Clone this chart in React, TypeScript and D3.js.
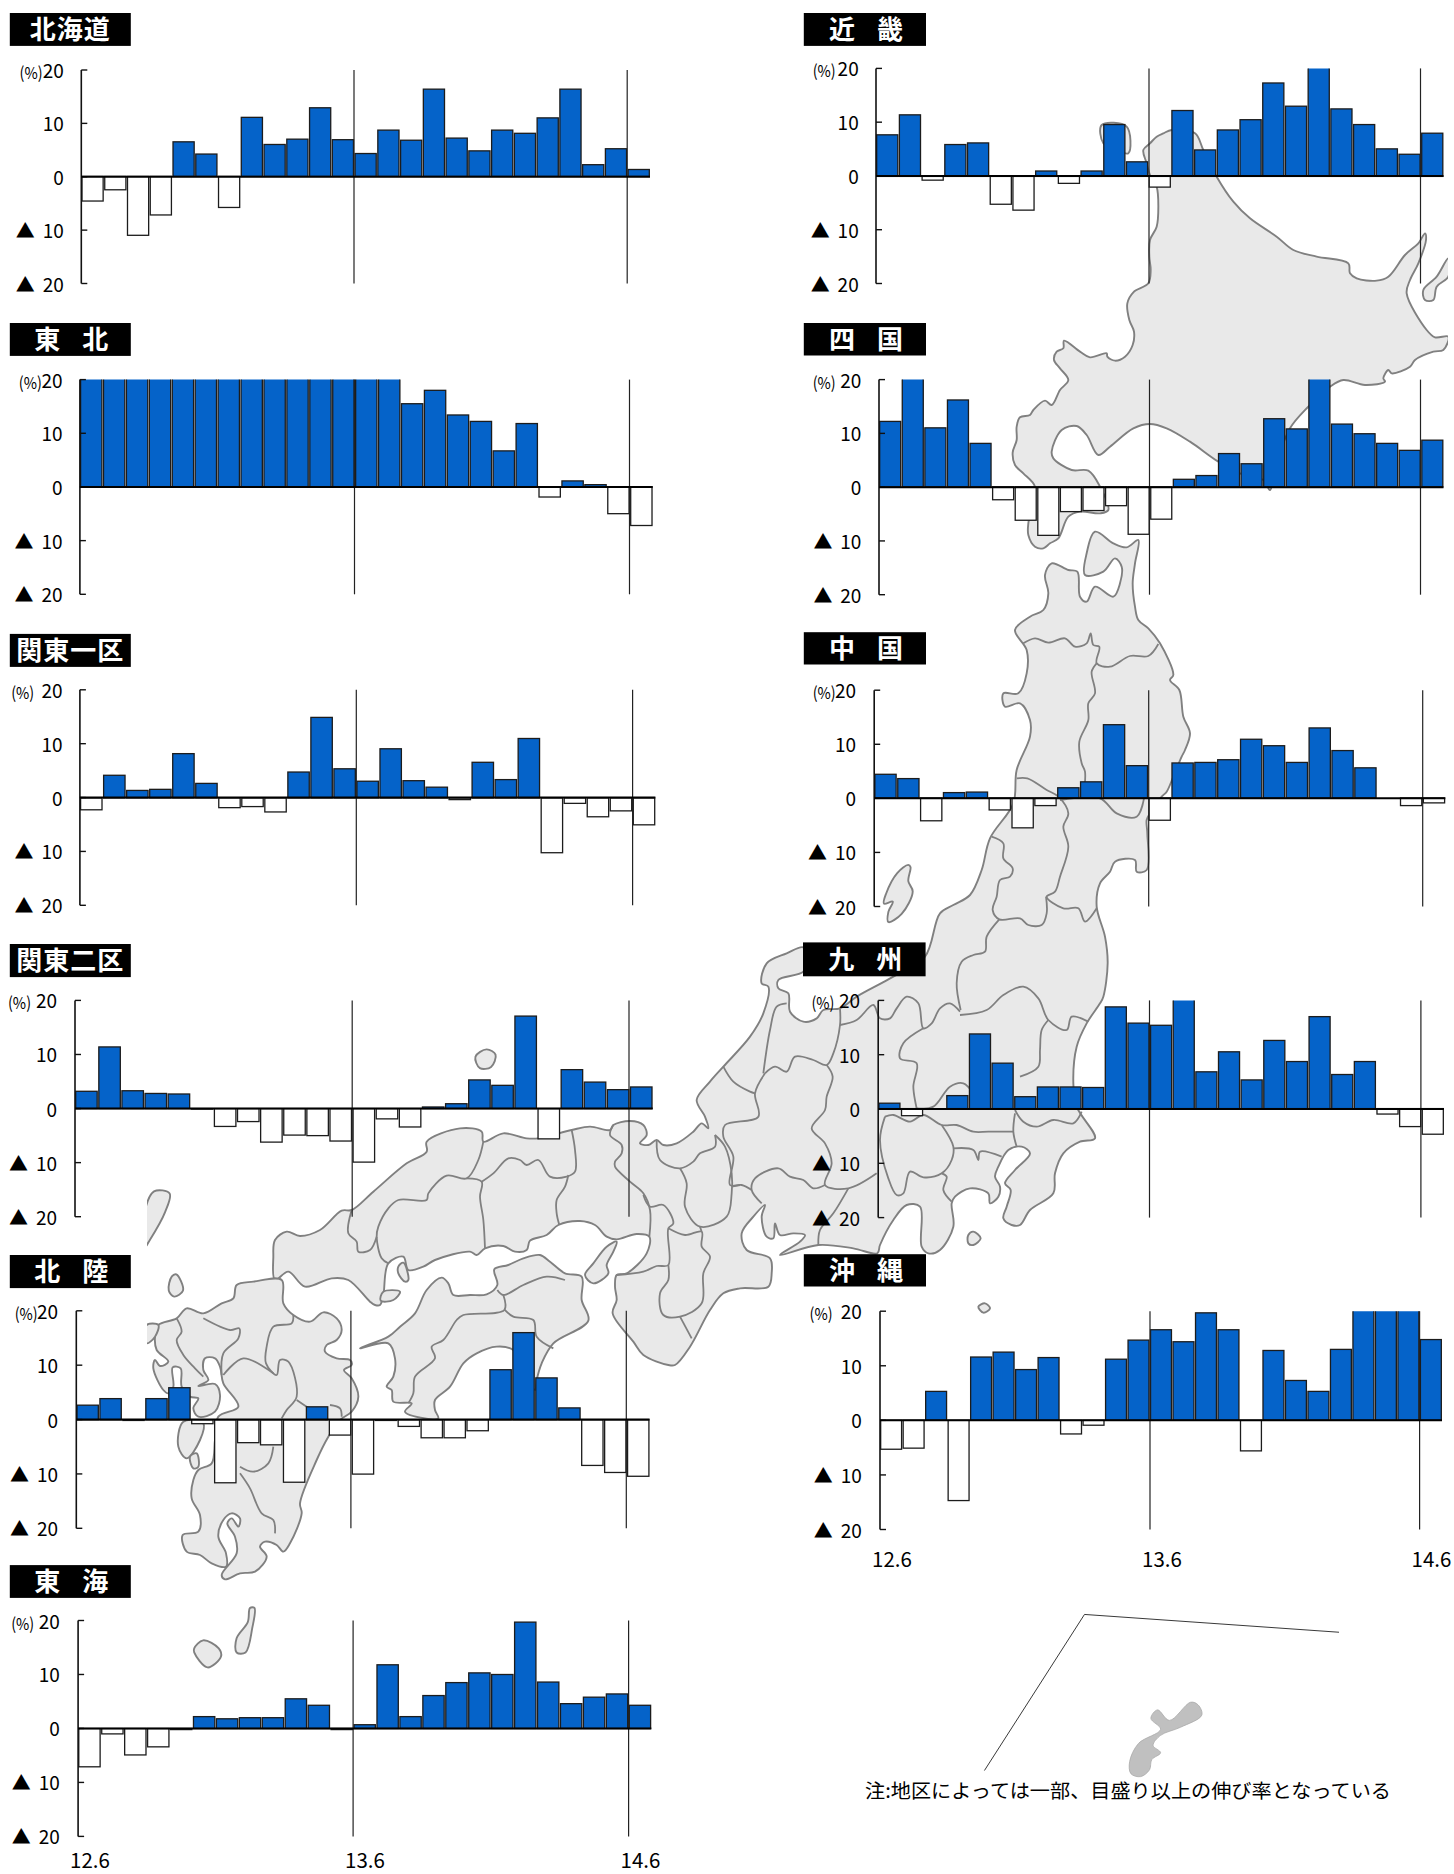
import React from "react";
import * as d3 from "d3";

// ---------- data (percent, 12.6 .. 14.6, 25 months; bars above the scale read as 20) ----------
const tickValues = [20, 10, 0, -10, -20];
const xLabels = ["12.6", "13.6", "14.6"];
const months = d3.range(25);

const hokkaido = [-4.6, -2.5, -11, -7.2, 6.5, 4.2, -5.8, 11.1, 6, 7, 12.9, 6.9, 4.3, 8.7, 6.8, 16.4, 7.2, 4.8, 8.7, 8.1, 11, 16.4, 2.2, 5.2, 1.3];
const tohoku = [20, 20, 20, 20, 20, 20, 20, 20, 20, 20, 20, 20, 20, 20, 15.5, 18, 13.4, 12.2, 6.7, 11.8, -1.9, 1.1, 0.4, -5, -7.2];
const kanto1 = [-2.2, 4.2, 1.4, 1.6, 8.2, 2.7, -1.8, -1.6, -2.6, 4.8, 14.9, 5.4, 3.1, 9.1, 3.2, 2, -0.3, 6.6, 3.4, 11, -10.2, -1, -3.5, -2.4, -5];
const kanto2 = [3.2, 11.4, 3.3, 2.8, 2.7, -0.1, -3.3, -2.4, -6.2, -4.9, -5, -6, -9.9, -1.9, -3.4, 0.3, 0.9, 5.3, 4.3, 17.1, -5.6, 7.2, 4.9, 3.5, 4];
const hokuriku = [2.7, 3.9, -0.1, 3.9, 5.9, -0.7, -11.6, -4.2, -4.6, -11.5, 2.4, -2.8, -10, -0.1, -1.2, -3.3, -3.3, -2, 9.2, 16, 7.7, 2.2, -8.4, -9.7, -10.4];
const tokai = [-7.1, -1, -4.9, -3.4, -0.2, 2.2, 1.8, 2, 2, 5.5, 4.3, -0.2, 0.7, 11.8, 2.2, 6.1, 8.5, 10.3, 10, 19.7, 8.6, 4.6, 5.8, 6.4, 4.3];
const kinki = [7.7, 11.4, -0.7, 5.9, 6.2, -5.2, -6.3, 1, -1.3, 1, 9.6, 2.7, -2, 12.2, 4.9, 8.6, 10.5, 17.3, 13, 20, 12.5, 9.6, 5.1, 4.1, 8];
const shikoku = [12.2, 20, 11, 16.2, 8.1, -2.4, -6.2, -9, -4.6, -4.4, -3.5, -8.8, -6, 1.4, 2.1, 6.2, 4.3, 12.7, 10.8, 20, 11.7, 9.9, 8.1, 6.8, 8.7];
const chugoku = [4.4, 3.6, -4.2, 1, 1.1, -2.2, -5.5, -1.4, 1.9, 3, 13.6, 6, -4.1, 6.5, 6.6, 7.1, 10.9, 9.7, 6.6, 13, 8.8, 5.6, 0, -1.4, -0.9];
const kyushu = [1, -1.3, 0, 2.4, 13.8, 8.4, 2.2, 4, 4, 3.9, 18.8, 15.8, 15.4, 20, 6.8, 10.5, 5.3, 12.6, 8.7, 17, 6.3, 8.7, -1, -3.3, -4.7];
const okinawa = [-5.3, -5.1, 5.3, -14.7, 11.6, 12.5, 9.3, 11.5, -2.5, -0.9, 11.2, 14.7, 16.6, 14.4, 19.7, 16.6, -5.6, 12.8, 7.3, 5.3, 13, 20, 20, 20, 14.8];

// ---------- layout ----------
type P = { name: string; values: number[]; x0: number; right: number; v1: number; v2: number; top: number; zero: number; bot: number; bx0: number; bx1: number; by0: number; by1: number; pct: number; lab: number; xl?: boolean; xlY?: number };
const panels: P[] = [
  { name: "北海道", values: hokkaido, x0: 81.3, right: 650, v1: 354, v2: 627.2, top: 70, zero: 176.4, bot: 283.5, bx0: 9.8, bx1: 130.8, by0: 13, by1: 45.9, pct: 19.6, lab: 63.8 },
  { name: "東　北", values: tohoku, x0: 79.9, right: 652.7, v1: 354.5, v2: 629.5, top: 379.6, zero: 486.8, bot: 594.3, bx0: 9.8, bx1: 130.8, by0: 323, by1: 355.9, pct: 18.8, lab: 62.5 },
  { name: "関東一区", values: kanto1, x0: 79.9, right: 655.4, v1: 356.3, v2: 632.6, top: 689.8, zero: 798, bot: 905.3, bx0: 9.8, bx1: 130.8, by0: 633.9, by1: 666.9, pct: 11.2, lab: 62.5 },
  { name: "関東二区", values: kanto2, x0: 75, right: 652.7, v1: 352.2, v2: 629, top: 1000.4, zero: 1108.6, bot: 1216.7, bx0: 9.8, bx1: 130.8, by0: 944, by1: 977.1, pct: 8, lab: 57.1 },
  { name: "北　陸", values: hokuriku, x0: 76.3, right: 649.6, v1: 350.9, v2: 626.3, top: 1310.8, zero: 1419.9, bot: 1528.3, bx0: 9.8, bx1: 130.8, by0: 1255, by1: 1288.1, pct: 14.7, lab: 58 },
  { name: "東　海", values: tokai, x0: 78.1, right: 651.3, v1: 353.1, v2: 628.6, top: 1620.5, zero: 1728.5, bot: 1836.4, bx0: 9.8, bx1: 130.8, by0: 1565.1, by1: 1597.9, pct: 11.2, lab: 59.8, xl: true, xlY: 1868 },
  { name: "近　畿", values: kinki, x0: 876, right: 1443.5, v1: 1149, v2: 1420.5, top: 68.4, zero: 176.4, bot: 283.5, bx0: 803.8, bx1: 926, by0: 13, by1: 45.9, pct: 812.7, lab: 858.7 },
  { name: "四　国", values: shikoku, x0: 879, right: 1443.5, v1: 1149.5, v2: 1420.5, top: 379.6, zero: 486.8, bot: 594.7, bx0: 803.8, bx1: 926, by0: 323, by1: 355.5, pct: 812.7, lab: 861.4 },
  { name: "中　国", values: chugoku, x0: 874.2, right: 1445.3, v1: 1148.7, v2: 1422.7, top: 690.2, zero: 798, bot: 906.5, bx0: 803.8, bx1: 926, by0: 632.2, by1: 664.5, pct: 812.7, lab: 856 },
  { name: "九　州", values: kyushu, x0: 878.2, right: 1444, v1: 1149.5, v2: 1420.9, top: 1000.4, zero: 1108.6, bot: 1217.6, bx0: 803, bx1: 925.6, by0: 942.4, by1: 976.3, pct: 811.4, lab: 860 },
  { name: "沖　縄", values: okinawa, x0: 880, right: 1442, v1: 1150, v2: 1419.6, top: 1311.2, zero: 1420.3, bot: 1529.5, bx0: 803.8, bx1: 926, by0: 1254.2, by1: 1286.5, pct: 809.6, lab: 861.8, xl: true, xlY: 1566.5 },
];

const CJK = '"Noto Sans CJK JP", "Noto Sans", sans-serif';

// ---------- base map outline traces (decoration behind the charts) ----------
type Pt = [number, number];
const T = (ox: number, oy: number, sx: number, sy: number, s: string): Pt[] =>
  s.trim().split(/\s+/).map((p) => {
    const [a, b] = p.split(",").map(Number);
    return [ox + a / sx, oy + b / sy] as Pt;
  });
const Z7 = (s: string) => T(1000, 130, 3, 3, s);
const Z8 = (s: string) => T(940, 530, 3, 3, s);
const Z9 = (s: string) => T(640, 940, 3, 3, s);
const Z10 = (s: string) => T(260, 1110, 3, 3, s);
const Z11 = (s: string) => T(140, 1280, 3, 3, s);
const Z3 = (s: string) => T(0, 620, 2.24, 2.45, s);
const Z4 = (s: string) => T(760, 620, 2.259, 2.45, s);
const Z5 = (s: string) => T(0, 1240, 2.24, 2.473, s);
const Z6 = (s: string) => T(760, 1240, 2.259, 2.473, s);

const landPolys: Pt[][] = [
  // Hokkaido
  Z7("515,0 490,10 470,20 450,40 430,60 440,100 450,135 470,170 475,230 470,290 450,330 448,380 452,420 445,460 400,487 382,520 388,570 402,605 398,645 375,680 345,692 322,680 320,670 270,682 240,665 192,632 190,655 170,665 162,690 180,715 205,750 180,780 155,825 135,812 100,840 90,855 60,862 50,890 50,930 38,968 45,1005 70,1030 105,1070 95,1130 85,1180 85,1215 105,1250 130,1255 150,1240 175,1225 205,1160 240,1145 300,1150 325,1140 300,1070 265,1022 215,1020 160,985 155,965 185,900 230,888 260,915 295,975 330,950 400,895 450,882 500,895 570,935 655,995 720,1030 790,1050 810,1080 830,1000 870,895 925,830 990,770 1030,750 1095,765 1155,755 1150,745 1165,720 1175,730 1230,710 1245,690 1300,665 1330,660 1345,620 1305,622 1280,600 1220,490 1230,450 1255,400 1278,330 1275,310 1255,340 1215,375 1165,440 1130,452 1070,445 1050,430 1045,400 950,380 880,360 830,320 750,265 700,215 650,140 610,60 585,10"),
  Z7("305,-15 380,-10 385,70 350,60 310,40"),
  Z7("1345,385 1310,440 1270,480 1275,510 1300,510 1310,470 1345,440"),
  // Honshu
  [
    ...Z8("465,5 520,40 560,52 595,30 585,100 578,160 585,230 595,270 625,295 660,340 700,435 690,450 718,480 730,560 750,610 735,660 725,680 700,740 680,785 665,800 630,850 620,870 622,910 620,1020 590,1025 585,990 525,995 510,1025 480,1060 470,1130 495,1220 503,1300 490,1400"),
    ...Z9("1380,190 1340,250 1310,320 1300,430 1310,500 1365,595 1320,605 1270,640 1245,700 1240,760 1170,810 1140,855 1115,855 1090,835 1100,800 1112,750 1095,730 1125,690 1170,640 1145,620 1105,630 1075,680 1065,710 1080,740 1075,770 1050,790 1045,760 990,745 945,770 935,790 940,860 900,930 865,940 845,920 840,800 800,795 760,840 720,915 712,940 640,925 535,915 420,945 480,905 495,885 460,880 420,885 405,850 400,895 380,890 365,830 375,795 340,830 305,880 320,930 390,955 395,1000 385,1040 300,1045 250,1060 210,1110 150,1220 105,1275"),
    ...Z10("1225,765 1150,735 1120,695 1058,610 1070,570 1065,530 1070,495 1100,490 1160,430 1168,380 1130,372 1070,388 1040,380 1005,345 960,333 895,345 860,375 810,392 800,420 765,425 730,408 675,415 650,435 630,425 525,450 490,470 445,480 430,440 385,460 370,555 360,585 345,585 330,575 265,510 215,505 135,530 85,485 45,510 40,440 45,390 80,365 120,378 180,360 245,302 275,300 340,245 440,160 500,125 500,95 600,55 665,65 670,95 730,70 800,85 835,85 935,60 990,50 1050,60 1060,45 1110,33 1150,45 1160,75 1140,100 1165,105 1190,90 1210,105 1250,100 1300,65 1325,40"),
    ...Z9("205,565 195,530 170,480 210,425 250,380 330,290 370,220 385,140 365,130 380,70 440,40 490,22 500,60 490,95 415,120 415,145 445,160 450,215 490,245 530,235 550,210 600,205 650,170 760,110 855,50"),
    ...Z8("0,1150 40,1125 90,1095 125,1020 150,925 220,820 230,720 270,620 270,570 240,520 195,530 190,490 235,490 260,430 260,360 225,300 270,260 310,240 325,190 315,135 335,100 385,120 412,125 420,200 440,215 465,170 520,200 540,160 545,110 525,85 490,125 435,135 440,70"),
  ],
  // Shikoku
  Z10("300,715 385,680 420,650 465,610 500,540 545,503 565,520 580,555 630,555 680,553 712,525 703,478 745,465 790,445 840,435 870,455 915,490 965,500 965,570 985,632 880,700 845,760 830,810 825,840 790,780 760,720 710,710 650,730 610,760 570,830 525,870 525,900 535,925 495,925 435,905 455,880 400,875 395,840 380,830 400,800 405,745 385,700"),
  // Kyushu
  Z11("425,0 430,70 460,105 510,125 550,97 590,115 605,150 590,180 560,195 555,215 590,235 630,240 635,255 612,270 635,295 655,350 635,395 600,420 565,470 530,540 480,670 485,700 450,790 430,815 410,795 375,785 360,800 380,830 345,875 300,880 255,898 245,885 290,820 285,770 262,730 275,715 295,740 300,715 275,700 250,720 235,770 258,820 258,860 215,850 180,825 140,815 128,765 175,755 180,705 155,655 160,600 175,570 215,550 225,480 235,410 295,380 250,310 240,260 225,235 195,235 190,270 205,300 175,318 225,312 240,345 225,395 175,410 160,385 175,355 150,350 125,320 122,265 98,262 100,320 85,340 70,330 40,265 45,240 60,258 85,245 50,210 45,170 55,135 110,115 140,85 190,100 245,70 280,55 290,15 340,5"),
  // islands
  Z11("130,425 115,500 140,535 180,480 190,430"),
  Z11("150,530 170,520 175,560 160,565"),
  Z11("20,135 55,135 45,170 20,190"),
  Z10("1070,395 1040,410 1000,460 975,495 1000,520 1045,490 1040,465 1060,425"),
  Z10("370,545 420,545 400,570 362,572"),
  Z10("415,470 430,458 445,510 435,515 415,490"),
  Z9("985,885 1000,875 1022,895 1000,915 985,910"),
  Z9("1015,1100 1035,1090 1050,1105 1030,1118"),
  Z4("335,600 310,620 285,670 280,695 300,690 290,715 290,740 320,720 345,665 335,640 340,605"),
  Z3("1065,1070 1090,1052 1110,1065 1100,1095 1075,1098"),
  Z3("345,1400 380,1405 370,1450 335,1520 322,1540 322,1460"),
  Z5("395,85 410,125 390,140 378,125 385,90"),
  Z5("570,910 565,960 550,1020 530,1020 530,985 555,945 560,910"),
  Z5("435,1010 455,990 490,1010 495,1030 465,1057 435,1020"),
];

const borderLines: Pt[][] = [
  // Tohoku
  Z8("250,340 285,325 325,338 375,325 405,350 440,340 452,310 460,345 478,350 470,400 510,410 570,378 625,378 655,342"),
  Z8("470,400 455,425 465,490 445,520 445,570 418,635 425,700 435,725 430,800"),
  Z8("230,745 262,745 320,780 355,800 385,850 370,890 385,950 360,1040 345,1085 320,1100 370,1135 415,1135 435,1175 470,1135"),
  Z8("360,810 480,805 530,850 590,860 612,805"),
  Z8("155,920 190,940 190,985 218,1015 210,1040 180,1050 170,1100 158,1140 178,1168 240,1165 265,1185 305,1185 320,1150 318,1100"),
  Z8("178,1168 140,1220 135,1265 100,1275 65,1295 50,1360 62,1440"),
  // Kanto / Chubu
  Z9("960,225 1040,210 1090,165 1150,140 1195,175 1225,240 1280,270 1295,230 1345,245"),
  Z9("960,215 930,190 900,205 875,250 850,265 835,190 800,170 770,205 750,235 720,235 700,195 650,240 600,255"),
  Z9("600,205 600,255 580,340 560,375 520,360 465,350 440,395 405,380 375,400"),
  Z9("440,190 410,200 390,270 370,400"),
  Z9("560,375 578,410 560,470 555,510 515,565 555,610 575,670 555,735 625,745 710,700"),
  Z9("555,735 520,745 490,720 450,710 415,685 345,715 335,750 365,790"),
  Z9("625,745 580,820 540,870 535,915"),
  Z9("375,400 345,460 355,530 255,555 250,590 280,650 270,735 305,735 335,750"),
  Z9("250,380 280,425 330,455 345,460"),
  Z9("850,265 790,310 780,355 830,370 820,440 830,505"),
  Z9("1225,240 1205,270 1200,330 1195,380 1140,410"),
  Z9("830,505 880,500 930,440 970,430 1000,460"),
  Z9("735,530 760,525 810,545 850,525 905,555 950,555 1000,575 1045,575 1120,575"),
  Z9("905,555 940,620 935,660 905,700 850,712 810,695 790,760 770,765 745,715 720,600 735,530"),
  Z9("940,625 1000,630 1015,660 1020,635 1085,650"),
  Z9("1125,520 1120,575 1130,620"),
  Z9("1125,510 1150,545 1190,560 1240,540 1300,550 1325,515"),
  Z9("905,700 920,710 910,750 935,785"),
  // Kinki / Chugoku
  Z10("670,95 655,150 620,205 560,197 505,250 500,270 415,270 385,295 355,350 350,380 365,445 385,460"),
  Z10("275,300 265,370 290,395 295,425 330,420 350,380"),
  Z10("620,205 665,215 660,260 670,330 675,415"),
  Z10("665,215 700,190 745,145 780,150 800,165 835,150 870,200 920,200 945,185 945,120 935,60"),
  Z10("925,195 915,230 890,270 890,310 898,345"),
  Z10("1060,45 1050,75 1085,105 1085,130 1065,155 1065,170 1110,215 1150,250 1170,300 1168,380"),
  Z10("1150,255 1170,290 1210,285 1240,340 1225,355 1225,465 1190,468 1150,485 1070,495"),
  Z10("1225,465 1225,510 1200,550 1210,615 1260,620 1325,580 1330,490 1350,440 1325,410 1325,365 1275,375 1225,355"),
  Z10("1260,620 1295,685"),
  Z10("1190,90 1200,150 1260,175 1300,155 1320,130 1365,110 1365,75"),
  Z10("1260,175 1280,220 1275,290 1320,350 1400,320 1415,250 1415,190 1395,110 1365,75"),
  Z10("1320,350 1325,365"),
  Z10("1415,230 1440,225"),
  // Shikoku
  Z10("712,540 730,555 790,525 860,500 915,510"),
  Z10("730,555 733,600 610,615 590,630 550,690 515,710 525,745 465,800 460,850 445,880"),
  Z10("733,598 760,620 820,630 830,680 880,715"),
  // Kyushu
  Z11("460,105 455,130 400,140 380,200 378,250 410,285 420,240 445,245 470,350 440,390 425,415"),
  Z11("250,285 310,235 400,280"),
  Z11("190,115 270,150 298,145 295,175 250,220 245,285"),
  Z11("110,115 125,155 110,180 130,225 165,265 190,290"),
  Z11("470,360 500,380 560,420"),
  Z11("570,375 600,385 605,410"),
  Z11("400,500 385,550 340,575 300,560"),
  Z11("300,580 330,625 365,700 400,720 405,760"),
];

const okinawaLand = Z6("973,1143 990,1150 998,1175 950,1205 905,1225 888,1250 905,1268 885,1285 880,1310 860,1327 838,1320 835,1290 855,1245 905,1210 883,1183 898,1162 925,1188");
const leaderLine = Z6("507,1312 733,926 1308,970");

const closedLine = d3.line<Pt>().curve(d3.curveCatmullRomClosed.alpha(0.5));
const openLine = d3.line<Pt>().curve(d3.curveCatmullRom.alpha(0.5));
const straight = d3.line<Pt>();

function Panel({ p, idx }: { p: P; idx: number }) {
  const y = d3.scaleLinear().domain([-20, 20]).range([p.bot, p.top]);
  const yTop = d3.scaleLinear().domain([0, 20]).range([p.zero, p.top]).clamp(true);
  const yBot = d3.scaleLinear().domain([-20, 0]).range([p.bot, p.zero]).clamp(true);
  const x = d3.scaleBand<number>().domain(months).range([p.x0, p.right]).paddingInner(0.07).paddingOuter(0.03);
  const val = (v: number) => (v >= 0 ? yTop(v) : yBot(v));
  const cx = (p.bx0 + p.bx1) / 2;
  const spaced = p.name.includes("　");
  const xTicks = [p.x0, p.v1, p.v2];
  const clipId = `barClip${idx}`;
  return (
    <g>
      <clipPath id={clipId}>
        <rect x={p.x0 - 2} y={p.top} width={p.right - p.x0 + 4} height={p.bot - p.top} />
      </clipPath>
      <rect x={p.bx0} y={p.by0} width={p.bx1 - p.bx0} height={p.by1 - p.by0} fill="#000" />
      <text x={cx} y={(p.by0 + p.by1) / 2 + 9.5} fill="#fff" textAnchor="middle" fontFamily={CJK} fontWeight={700} fontSize={26} letterSpacing={spaced ? -2 : 1}>
        {p.name}
      </text>
      <g clipPath={`url(#${clipId})`}>
        {p.values.map((v, i) => {
          if (v === 0) return null;
          const over = v >= 20 ? 4 : 0; // bars above the scale run off the plot, with no top edge
          const yy = Math.min(val(v), p.zero) - over;
          return (
            <rect
              key={i}
              x={x(i)}
              y={yy}
              width={x.bandwidth()}
              height={Math.abs(val(v) - p.zero) + over}
              fill={v > 0 ? "#0563c9" : "#fff"}
              stroke="#1c1c1c"
              strokeWidth={1.3}
            />
          );
        })}
      </g>
      {[p.v1, p.v2].map((vx) => (
        <line key={vx} x1={vx} x2={vx} y1={p.top} y2={p.bot} stroke="#222" strokeWidth={1.2} />
      ))}
      <line x1={p.x0} x2={p.x0} y1={p.top} y2={p.bot} stroke="#111" strokeWidth={1.6} />
      {tickValues.map((t) => (
        <line key={t} x1={p.x0} x2={p.x0 + 6} y1={y(t)} y2={y(t)} stroke="#111" strokeWidth={1.4} />
      ))}
      <line x1={p.x0} x2={p.right} y1={y(0)} y2={y(0)} stroke="#000" strokeWidth={2} />
      {tickValues.map((t) => (
        <g key={t} fontFamily={CJK} fill="#000">
          <text x={p.lab} y={y(t) + 8} textAnchor="end" fontSize={19}>
            {Math.abs(t)}
          </text>
          {t < 0 && (
            <text x={p.lab - 48} y={y(t) + 8} fontSize={19}>
              ▲
            </text>
          )}
        </g>
      ))}
      <text x={p.pct} y={p.top + 9} fontFamily={CJK} fontSize={16.5} fill="#000" textLength={23} lengthAdjust="spacingAndGlyphs">
        (%)
      </text>
      {p.xl &&
        xLabels.map((l, i) => (
          <text key={l} x={xTicks[i] - 8} y={p.xlY} fontFamily={CJK} fontSize={20.5} fill="#000">
            {l}
          </text>
        ))}
    </g>
  );
}

export default function App() {
  return (
    <svg width={1454} height={1874} style={{ position: "absolute", left: 0, top: 0, background: "#fff" }}>
      <defs>
        <clipPath id="mapClip">
          <rect x={147} y={100} width={1301} height={1600} />
        </clipPath>
      </defs>
      <g clipPath="url(#mapClip)">
        {landPolys.map((pts, i) => (
          <path key={i} d={closedLine(pts) ?? ""} fill="#e9e9e9" stroke="#808080" strokeWidth={1.9} strokeLinejoin="round" />
        ))}
        {borderLines.map((pts, i) => (
          <path key={i} d={openLine(pts) ?? ""} fill="none" stroke="#808080" strokeWidth={1.8} strokeLinejoin="round" />
        ))}
      </g>
      <path d={closedLine(okinawaLand) ?? ""} fill="#c0c0c0" stroke="#aaa" strokeWidth={0.8} />
      <path d={straight(leaderLine) ?? ""} fill="none" stroke="#222" strokeWidth={0.9} />
      {panels.map((p, i) => (
        <Panel key={p.name} p={p} idx={i} />
      ))}
      <text x={865} y={1798} fontFamily={CJK} fontSize={19.5} fill="#000" textLength={526} lengthAdjust="spacingAndGlyphs">
        注:地区によっては一部、目盛り以上の伸び率となっている
      </text>
    </svg>
  );
}
